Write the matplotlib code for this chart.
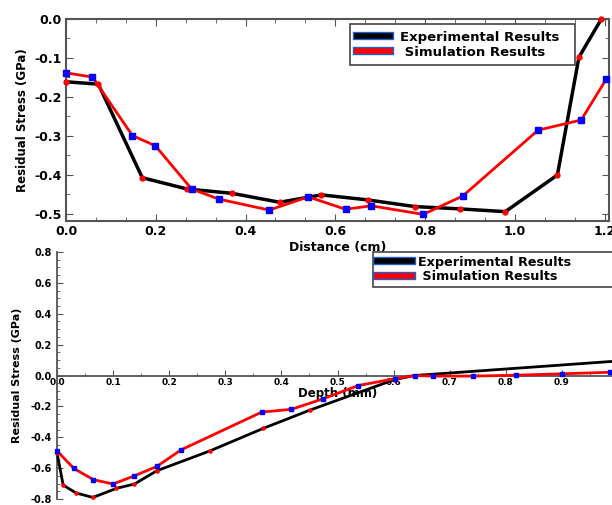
import numpy as np
import matplotlib.pyplot as plt
import matplotlib.patheffects as pe
from matplotlib.lines import Line2D
from matplotlib.ticker import MultipleLocator

plt.rcParams['font.family'] = 'DejaVu Sans'
plt.rcParams['font.weight'] = 'bold'
plt.rcParams['axes.unicode_minus'] = False

# top panel: stress along distance
dist_exp = [0.0, 0.072, 0.17, 0.27, 0.37, 0.476, 0.569, 0.673, 0.777, 0.879, 0.979, 1.095, 1.143, 1.193]
dist_exp_s = [-0.161, -0.167, -0.407, -0.436, -0.447, -0.47, -0.451, -0.464, -0.481, -0.487, -0.494, -0.40, -0.098, 0.0]
dist_sim = [0.0, 0.059, 0.148, 0.199, 0.28, 0.341, 0.453, 0.54, 0.623, 0.68, 0.796, 0.884, 1.052, 1.148, 1.204]
dist_sim_s = [-0.138, -0.149, -0.299, -0.325, -0.436, -0.462, -0.49, -0.456, -0.488, -0.479, -0.501, -0.454, -0.285, -0.259, -0.154]

# bottom panel: stress along depth
depth_exp = [0.0, 0.011, 0.034, 0.064, 0.106, 0.138, 0.178, 0.273, 0.368, 0.451, 0.602, 0.638, 1.0]
depth_exp_s = [-0.499, -0.71, -0.761, -0.79, -0.731, -0.703, -0.617, -0.488, -0.342, -0.224, -0.026, 0.0, 0.094]
depth_sim = [0.0, 0.030, 0.065, 0.100, 0.138, 0.178, 0.221, 0.365, 0.418, 0.475, 0.537, 0.602, 0.638, 0.670, 0.741, 0.818, 0.900, 0.986]
depth_sim_s = [-0.488, -0.602, -0.675, -0.703, -0.650, -0.589, -0.482, -0.237, -0.219, -0.150, -0.065, -0.021, 0.0, -0.004, -0.004, 0.002, 0.011, 0.021]

labels = ['Experimental Results', ' Simulation Results']

fig = plt.figure(figsize=(6.12, 5.05), dpi=100)

def legend_handles():
    h1 = Line2D([], [], color='black', lw=4,
                path_effects=[pe.Stroke(linewidth=6, foreground='#1f5fd0'), pe.Normal()])
    h2 = Line2D([], [], color='red', lw=4,
                path_effects=[pe.Stroke(linewidth=6, foreground='#1f5fd0'), pe.Normal()])
    return [h1, h2]

# ---- top panel
ax1 = fig.add_axes([66 / 612, 1 - 221 / 505, 543 / 612, 202 / 505])
ax1.plot(dist_exp, dist_exp_s, color='black', lw=2.5, marker='o', ms=3.5,
         mfc='red', mec='red', clip_on=False, zorder=3)
ax1.plot(dist_sim, dist_sim_s, color='red', lw=2, marker='s', ms=3.8,
         mfc='blue', mec='blue', clip_on=False, zorder=4)
ax1.set_xlim(0, 1.21)
ax1.set_ylim(-0.518, 0)
ax1.xaxis.set_major_locator(MultipleLocator(0.2))
ax1.xaxis.set_minor_locator(MultipleLocator(0.2 / 3))
ax1.yaxis.set_major_locator(MultipleLocator(0.1))
ax1.yaxis.set_minor_locator(MultipleLocator(0.05))
ax1.tick_params(which='both', direction='in', top=True, right=True, color='#555',
                labelsize=9, pad=3)
ax1.tick_params(which='major', length=5)
ax1.tick_params(which='minor', length=3)
ax1.set_xticklabels([f'{v:.1f}' for v in ax1.get_xticks()], fontweight='bold')
ax1.set_yticklabels([f'{v:.1f}' for v in ax1.get_yticks()], fontweight='bold')
for s in ax1.spines.values():
    s.set_color('#555')
    s.set_linewidth(1.5)
ax1.set_xlabel('Distance (cm)', fontsize=9, fontweight='bold', labelpad=2)
ax1.set_ylabel('Residual Stress (GPa)', fontsize=8.5, fontweight='bold', labelpad=4)
leg1 = ax1.legend(legend_handles(), labels, loc='upper left',
                  bbox_to_anchor=(0.523, 0.775, 0.414, 0.2), mode='expand',
                  borderaxespad=0, fancybox=False, edgecolor='#444', framealpha=1,
                  handlelength=2.5, prop={'weight': 'bold', 'size': 9.5},
                  borderpad=0.5, labelspacing=0.15)
leg1.get_frame().set_linewidth(1.2)

# ---- bottom panel
ax2 = fig.add_axes([57 / 612, 1 - 499 / 505, 561 / 612, 247 / 505])
ax2.plot(depth_exp, depth_exp_s, color='black', lw=2, marker='o', ms=2.3,
         mfc='red', mec='red', clip_on=False, zorder=3)
ax2.plot(depth_sim, depth_sim_s, color='red', lw=2, marker='s', ms=2.6,
         mfc='blue', mec='blue', clip_on=False, zorder=4)
ax2.set_xlim(0, 1.0)
ax2.set_ylim(-0.8, 0.8)
ax2.spines['bottom'].set_position(('data', 0))
ax2.spines['top'].set_visible(False)
ax2.spines['right'].set_visible(False)
for s in ax2.spines.values():
    s.set_color('#555')
    s.set_linewidth(1.3)
ax2.xaxis.set_major_locator(MultipleLocator(0.1))
ax2.xaxis.set_minor_locator(MultipleLocator(0.05))
ax2.yaxis.set_major_locator(MultipleLocator(0.2))
ax2.yaxis.set_minor_locator(MultipleLocator(0.05))
ax2.tick_params(axis='x', which='both', direction='in', color='#555', labelsize=6.5, pad=2)
ax2.tick_params(axis='y', which='both', direction='in', right=True, color='#555', labelsize=7)
ax2.tick_params(which='major', length=4)
ax2.tick_params(which='minor', length=2)
ax2.set_xticklabels([f'{v:.1f}' for v in ax2.get_xticks()], fontweight='bold')
ax2.set_yticklabels([f'{v:.1f}' for v in ax2.get_yticks()], fontweight='bold')
ax2.set_xlabel('Depth (mm)', fontsize=8.5, fontweight='bold')
ax2.xaxis.set_label_coords(0.5, 0.455)
ax2.set_ylabel('Residual Stress (GPa)', fontsize=8, fontweight='bold', labelpad=6)
leg2 = ax2.legend(legend_handles(), labels, loc='upper left',
                  bbox_to_anchor=(0.563, 0.8, 0.44, 0.2), mode='expand',
                  borderaxespad=0, fancybox=False, edgecolor='#444', framealpha=1,
                  handlelength=2.8, handletextpad=0.4, prop={'weight': 'bold', 'size': 9.2},
                  borderpad=0.3, labelspacing=0.1)
leg2.get_frame().set_linewidth(1.2)

fig.savefig('out.png', dpi=100)
